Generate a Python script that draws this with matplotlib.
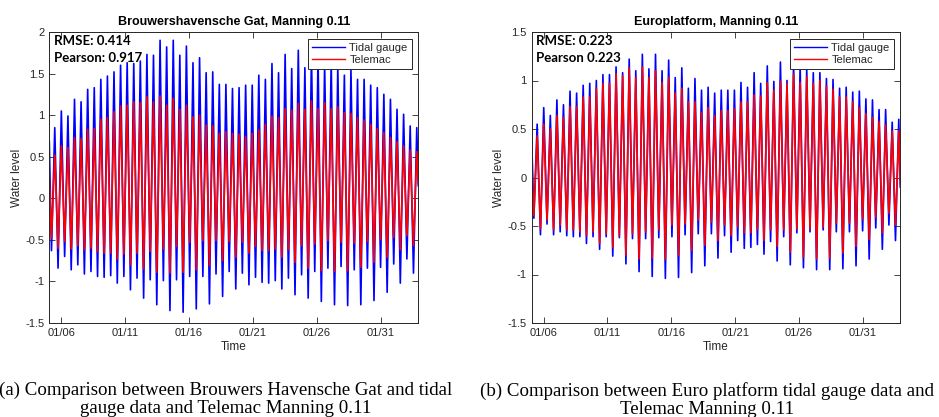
import numpy as np
import matplotlib
matplotlib.use("Agg")
import matplotlib.pyplot as plt
import matplotlib.dates as mdates
from datetime import datetime

# ---------------------------------------------------------------------------
# Tidal extremes (m), alternating low / high water, January - early February
# ---------------------------------------------------------------------------
# Brouwershavensche Gat
bg_gauge_high = [0.85, 1.05, 0.99, 1.19, 1.16, 1.31, 1.33, 1.43, 1.47, 1.52, 1.60, 1.63, 1.62, 1.65,
                 1.73, 1.72, 1.90, 1.82, 1.90, 1.72, 1.83, 1.63, 1.69, 1.51, 1.52, 1.37, 1.37,
                 1.32, 1.33, 1.36, 1.36, 1.48, 1.43, 1.62, 1.51, 1.73, 1.56, 1.78, 1.57, 1.74, 1.70,
                 1.62, 1.65, 1.58, 1.48, 1.55, 1.43, 1.43, 1.36, 1.33, 1.25, 1.19, 1.07, 1.01, 0.87, 0.85]
bg_gauge_low = [-0.63, -0.84, -0.70, -0.86, -0.80, -0.91, -0.88, -0.94, -0.95, -0.93, -1.02, -0.94, -1.10, -0.96,
                -1.20, -0.98, -1.28, -0.99, -1.35, -0.98, -1.37, -0.94, -1.33, -0.94, -1.27, -0.91, -1.18, -0.88,
                -1.09, -0.90, -1.04, -0.95, -1.01, -1.02, -0.99, -1.09, -0.96, -1.16, -0.92, -1.20, -0.88, -1.24,
                -0.84, -1.28, -0.82, -1.29, -0.86, -1.28, -0.84, -1.23, -0.83, -1.13, -0.79, -1.02, -0.73, -0.90]
bg_model_high = [0.52, 0.63, 0.61, 0.73, 0.72, 0.83, 0.84, 0.95, 0.97, 1.04, 1.11, 1.12, 1.16, 1.15,
                 1.22, 1.16, 1.23, 1.12, 1.20, 1.07, 1.12, 0.98, 1.00, 0.88, 0.87, 0.78, 0.80,
                 0.78, 0.77, 0.74, 0.78, 0.82, 0.89, 0.99, 0.97, 1.08, 1.06, 1.14, 1.07, 1.17, 1.08,
                 1.15, 1.08, 1.10, 1.03, 1.02, 0.97, 0.94, 0.89, 0.84, 0.79, 0.73, 0.68, 0.63, 0.58, 0.56]
bg_model_low = [-0.48, -0.60, -0.52, -0.61, -0.57, -0.62, -0.60, -0.64, -0.66, -0.66, -0.73, -0.67, -0.80, -0.66,
                -0.85, -0.64, -0.89, -0.61, -0.90, -0.58, -0.89, -0.53, -0.86, -0.51, -0.81, -0.51, -0.75, -0.52,
                -0.71, -0.53, -0.66, -0.58, -0.63, -0.63, -0.61, -0.71, -0.62, -0.77, -0.57, -0.84, -0.55, -0.87,
                -0.51, -0.88, -0.53, -0.87, -0.54, -0.83, -0.52, -0.77, -0.50, -0.71, -0.47, -0.62, -0.45, -0.57]
bg_gauge_ends = [0.68, 0.15]
bg_model_ends = [0.27, 0.18]

# Europlatform
ep_gauge_high = [0.55, 0.72, 0.64, 0.80, 0.75, 0.89, 0.87, 0.95, 0.97, 1.00, 1.06, 1.06, 1.14, 1.08,
                 1.22, 1.10, 1.27, 1.12, 1.27, 1.10, 1.21, 1.03, 1.13, 0.92, 1.02, 0.90, 0.93,
                 0.87, 0.90, 0.90, 0.90, 0.98, 0.93, 1.08, 0.97, 1.15, 0.99, 1.19, 1.00, 1.18, 1.15,
                 1.12, 1.08, 1.08, 1.02, 1.01, 0.92, 0.93, 0.88, 0.89, 0.81, 0.80, 0.70, 0.70, 0.57, 0.60]
ep_gauge_low = [-0.42, -0.59, -0.48, -0.59, -0.56, -0.60, -0.61, -0.61, -0.68, -0.61, -0.74, -0.61, -0.81, -0.62,
                -0.89, -0.63, -0.97, -0.63, -1.02, -0.62, -1.04, -0.61, -1.03, -0.59, -0.98, -0.58, -0.91,
                -0.58, -0.83, -0.60, -0.77, -0.65, -0.73, -0.72, -0.69, -0.79, -0.66, -0.86, -0.61, -0.90, -0.57,
                -0.93, -0.56, -0.95, -0.54, -0.95, -0.56, -0.94, -0.56, -0.91, -0.55, -0.84, -0.52, -0.74, -0.49, -0.65]
ep_model_high = [0.43, 0.55, 0.50, 0.64, 0.62, 0.73, 0.73, 0.83, 0.83, 0.92, 0.97, 0.97, 1.07, 1.05,
                 1.13, 1.03, 1.14, 1.03, 1.10, 0.98, 1.03, 0.87, 0.92, 0.78, 0.78, 0.67, 0.72,
                 0.64, 0.69, 0.69, 0.71, 0.78, 0.78, 0.85, 0.84, 0.98, 0.90, 0.99, 0.97, 1.07, 0.98,
                 1.04, 0.97, 1.00, 0.94, 0.91, 0.83, 0.83, 0.78, 0.72, 0.66, 0.62, 0.58, 0.54, 0.48, 0.48]
ep_model_low = [-0.39, -0.53, -0.44, -0.54, -0.49, -0.54, -0.54, -0.56, -0.60, -0.56, -0.68, -0.58, -0.72, -0.60,
                -0.80, -0.58, -0.84, -0.56, -0.83, -0.54, -0.84, -0.49, -0.80, -0.48, -0.75, -0.44, -0.70,
                -0.46, -0.65, -0.49, -0.60, -0.51, -0.57, -0.57, -0.54, -0.65, -0.54, -0.71, -0.54, -0.77, -0.53,
                -0.82, -0.53, -0.84, -0.51, -0.83, -0.47, -0.78, -0.47, -0.71, -0.43, -0.64, -0.41, -0.57, -0.37, -0.49]
ep_gauge_ends = [0.40, -0.10]
ep_model_ends = [0.16, -0.07]

# Time frame (day of January): record start/end, first low water, semi-diurnal step
record_start, record_end = 5.07, 33.92
first_low = 5.24
half_tide = 0.2573

titles = ["Brouwershavensche Gat, Manning 0.11", "Europlatform, Manning 0.11"]
stats = [["RMSE: 0.414", "Pearson: 0.917"], ["RMSE: 0.223", "Pearson 0.223"]]
captions = ["(a) Comparison between Brouwers Havensche Gat and tidal\ngauge data and Telemac Manning 0.11",
            "(b) Comparison between Euro platform tidal gauge data and\nTelemac Manning 0.11"]
ylims = [(-1.5, 2.0), (-1.5, 1.5)]
yticks = [[-1.5, -1, -0.5, 0, 0.5, 1, 1.5, 2], [-1.5, -1, -0.5, 0, 0.5, 1, 1.5]]
tick_days = [6, 11, 16, 21, 26, 31]
legend_labels = ["Tidal gauge", "Telemac"]

jan1 = mdates.date2num(datetime(2019, 1, 1))


def series(lows, highs, ends):
    n = len(lows) + len(highs)
    ext = np.empty(n)
    ext[0::2] = lows
    ext[1::2] = highs
    t = first_low + half_tide * np.arange(n)
    t = np.concatenate([[record_start], t, [record_end]])
    v = np.concatenate([[ends[0]], ext, [ends[1]]])
    return jan1 + t - 1, v


panels = [
    (series(bg_gauge_low, bg_gauge_high, bg_gauge_ends), series(bg_model_low, bg_model_high, bg_model_ends)),
    (series(ep_gauge_low, ep_gauge_high, ep_gauge_ends), series(ep_model_low, ep_model_high, ep_model_ends)),
]

W, H = 939, 417
fig = plt.figure(figsize=(W / 100, H / 100), dpi=100)
ink = "#262626"
sans = "Liberation Sans"

ax_px = [(49.3, 418.3), (531.7, 900.3)]
top_px, bot_px = 32.0, 323.0

for i, ((tg, vg), (tm, vm)) in enumerate(panels):
    x0, x1 = ax_px[i]
    ax = fig.add_axes([x0 / W, 1 - bot_px / H, (x1 - x0) / W, (bot_px - top_px) / H])
    lg, = ax.plot(tg, vg, color=(0, 0, 1), lw=1.2)
    lm, = ax.plot(tm, vm, color=(1, 0, 0), lw=1.2)
    ax.set_xlim(jan1 + record_start - 1, jan1 + record_end - 1)
    ax.set_ylim(*ylims[i])
    ax.set_yticks(yticks[i])
    ax.set_yticklabels([f"{v:g}" for v in yticks[i]])
    ax.set_xticks([jan1 + d - 1 for d in tick_days])
    ax.xaxis.set_major_formatter(mdates.DateFormatter("%m/%d"))
    ax.tick_params(direction="in", top=True, right=True, length=4, width=0.6,
                   color=ink, labelcolor=ink, labelsize=8)
    for lab in ax.get_xticklabels() + ax.get_yticklabels():
        lab.set_fontfamily(sans)
    for s in ax.spines.values():
        s.set_color(ink)
        s.set_linewidth(0.7)
    ax.set_title(titles[i], fontsize=9, fontweight="bold", fontfamily=sans, pad=5, color="black")
    ax.set_xlabel("Time", fontsize=8.5, fontfamily=sans, color=ink, labelpad=2)
    ax.set_ylabel("Water level", fontsize=8.5, fontfamily=sans, color=ink, labelpad=2)
    ax.text(0.012, (bot_px - 41) / (bot_px - top_px), stats[i][0], transform=ax.transAxes,
            ha="left", va="center", fontsize=9.5, fontweight="bold", fontfamily="Lato")
    ax.text(0.012, (bot_px - 57.5) / (bot_px - top_px), stats[i][1], transform=ax.transAxes,
            ha="left", va="center", fontsize=9.5, fontweight="bold", fontfamily="Lato")
    leg = ax.legend([lg, lm], legend_labels, loc="upper right", fancybox=False, framealpha=1,
                    edgecolor=ink, prop={"family": sans, "size": 8}, handlelength=3.0,
                    borderaxespad=0.6, borderpad=0.35, labelspacing=0.2, handletextpad=0.4)
    leg.get_frame().set_linewidth(0.7)
    for line in leg.get_lines():
        line.set_linewidth(1.0)
    for txt in leg.get_texts():
        txt.set_color(ink)

cap_x = [226, 707]
for i, cap in enumerate(captions):
    fig.text(cap_x[i] / W, 1 - 382 / H, cap, ha="center", va="top", fontsize=13.6,
             fontfamily="Liberation Serif", linespacing=1.06, color="black")

fig.savefig("out.png", dpi=100)
